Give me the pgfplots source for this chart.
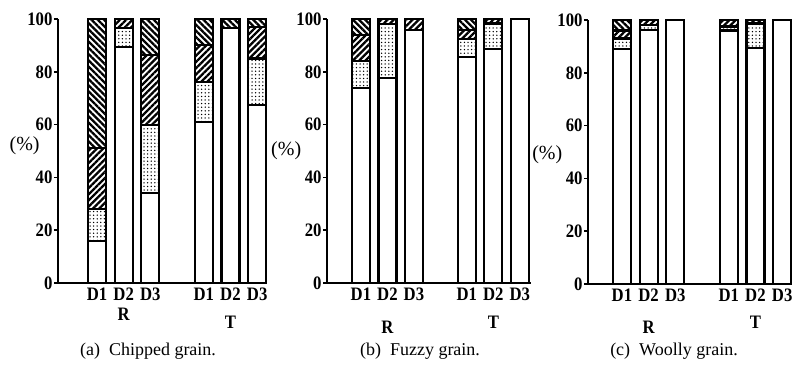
\documentclass[border=0pt]{standalone}
\usepackage{fontspec}
\setmainfont{Liberation Serif}
\newfontfamily\tallfont[FakeStretch=0.88]{Liberation Serif}
\usepackage{pgfplots}
\pgfplotsset{compat=1.18}
\usetikzlibrary{patterns.meta}
\pgfplotsset{
  panel/.style={
    ybar stacked, bar width=18pt, scale only axis, height=264pt,
    ymin=0, ymax=100, clip=false,
    axis x line*=bottom, axis y line*=left,
    ytick={0,20,40,60,80,100},
    xtick={1,2,3,5,6,7}, xticklabels={D1,D2,D3,D1,D2,D3},
    x tick style={draw=none},
    y tick style={line width=1.6pt, black},
    tick align=outside, major tick length=4pt,
    axis line style={line width=2pt},
    /pgf/number format/assume math mode=true,
    yticklabel style={font=\tallfont\bfseries\fontsize{19}{19}\selectfont, xshift=2pt},
    xticklabel style={font=\tallfont\bfseries\fontsize{19}{19}\selectfont, yshift=3pt},
    every axis plot/.append style={draw=black, line width=2.2pt},
  },
  sw/.style={fill=white},
  sd/.style={fill=white, postaction={pattern={Dots[distance=3.6pt, radius=0.75pt]}, pattern color=black}},
  sne/.style={fill=white, postaction={pattern={Lines[angle=45, distance=4.4pt, line width=2.3pt]}, pattern color=black}},
  snw/.style={fill=white, postaction={pattern={Lines[angle=-45, distance=4.4pt, line width=2.3pt]}, pattern color=black}},
}
\pgfplotstableread{
x w d ne nw
1 16 12 23 49
2 89.5 7 3.5 0
3 34 26 26.5 13.5
5 61 15 14 10
6 96.6 0 0 3.4
7 67.5 17.5 12 3
}\tabA
\pgfplotstableread{
x w d ne nw
1 74 10 10 6
2 77.7 20.3 2 0
3 95.8 0 4.2 0
5 85.7 6.7 3.4 4.2
6 88.6 9.7 1.7 0
7 100 0 0 0
}\tabB
\pgfplotstableread{
x w d ne nw
1 89 4 3 4
2 96.3 1.7 2 0
3 100 0 0 0
5 96 1.5 2.5 0
6 89.5 9.2 1.3 0
7 100 0 0 0
}\tabC
\newcommand{\bars}[1]{%
  \addplot[sw] table[x=x,y=w]{#1};
  \addplot[sd] table[x=x,y=d]{#1};
  \addplot[sne] table[x=x,y=ne]{#1};
  \addplot[snw] table[x=x,y=nw]{#1};
}
\newcommand{\grp}{\tallfont\bfseries\fontsize{19}{19}\selectfont}
\newcommand{\pct}{\fontsize{20}{20}\selectfont}
\begin{document}
\begin{tikzpicture}
\path[use as bounding box] (0pt,0pt) rectangle (792pt,370pt);
\begin{axis}[panel, at={(58pt,87pt)}, anchor=south west, width=208.5pt, xmin=-0.46, xmax=7.35]
\bars{\tabA}
\node[font=\pct] at (rel axis cs:-0.16,0.52) {(\%)};
\node[font=\grp] at (axis cs:2,0) [yshift=-31pt] {R};
\node[font=\grp] at (axis cs:6,0) [yshift=-39pt] {T};
\end{axis}
\begin{axis}[panel, at={(327pt,87pt)}, anchor=south west, width=204pt, xmin=-0.28, xmax=7.42]
\bars{\tabB}
\node[font=\pct] at (rel axis cs:-0.2,0.5) {(\%)};
\node[font=\grp] at (axis cs:2,0) [yshift=-44pt] {R};
\node[font=\grp] at (axis cs:6,0) [yshift=-39pt] {T};
\end{axis}
\begin{axis}[panel, at={(588pt,86pt)}, anchor=south west, width=203.5pt, xmin=-0.27, xmax=7.35]
\bars{\tabC}
\node[font=\pct] at (rel axis cs:-0.2,0.49) {(\%)};
\node[font=\grp] at (axis cs:2,0) [yshift=-43pt] {R};
\node[font=\grp] at (axis cs:6,0) [yshift=-38pt] {T};
\end{axis}
\node[font=\fontsize{18}{18}\selectfont] at (148pt,19pt) {(a)\ \ Chipped grain.};
\node[font=\fontsize{18}{18}\selectfont] at (420pt,19pt) {(b)\ \ Fuzzy grain.};
\node[font=\fontsize{18}{18}\selectfont] at (674pt,19pt) {(c)\ \ Woolly grain.};
\end{tikzpicture}
\end{document}
